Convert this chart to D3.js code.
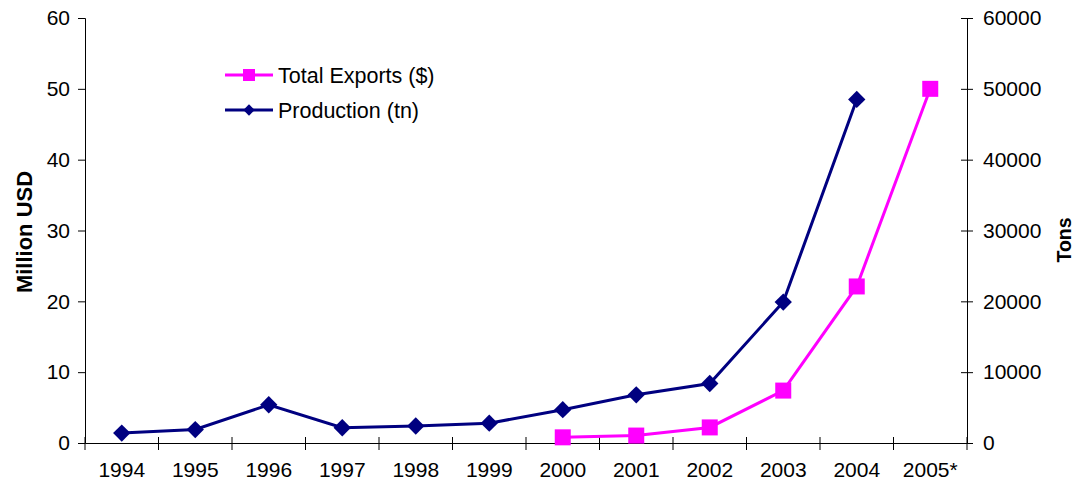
<!DOCTYPE html>
<html>
<head>
<meta charset="utf-8">
<script src="https://cdn.jsdelivr.net/npm/d3@7"></script>
<style>
  body { margin: 0; background: #fff; }
  svg { display: block; font-family: Arial, "Liberation Sans", sans-serif; }
</style>
</head>
<body>
<svg id="chart" width="1074" height="484"></svg>
<script>
// Category labels along the x axis
const years = ["1994", "1995", "1996", "1997", "1998", "1999", "2000", "2001", "2002", "2003", "2004", "2005*"];

// Production in tons (right axis); no figure for 2005*
const production = [1400, 1900, 5400, 2150, 2400, 2800, 4700, 6800, 8400, 19900, 48500, null];

// Total exports in million USD (left axis); starts in 2000
const exportsUSD = [null, null, null, null, null, null, 0.8, 1.05, 2.2, 7.4, 22.1, 50];

const leftTicks = [0, 10, 20, 30, 40, 50, 60];
const rightTicks = [0, 10000, 20000, 30000, 40000, 50000, 60000];

const svg = d3.select("#chart");
const m = { left: 85, right: 967, top: 18, bottom: 443 };

const x = d3.scaleBand().domain(years).range([m.left, m.right]);
const yL = d3.scaleLinear().domain([0, 60]).range([m.bottom, m.top]);
const yR = d3.scaleLinear().domain([0, 60000]).range([m.bottom, m.top]);

const cx = d => x(d) + x.bandwidth() / 2;

// Left axis
const gL = svg.append("g").attr("transform", `translate(${m.left},0)`)
  .call(d3.axisLeft(yL).tickValues(leftTicks).tickSize(7).tickPadding(8));
// Right axis
const gR = svg.append("g").attr("transform", `translate(${m.right},0)`)
  .call(d3.axisRight(yR).tickValues(rightTicks).tickFormat(d3.format("d")).tickSize(6).tickPadding(10));
gR.selectAll(".tick line").attr("x1", -6);

// Bottom axis: ticks sit between categories
const gB = svg.append("g").attr("transform", `translate(0,${m.bottom})`)
  .call(d3.axisBottom(x).tickSize(0).tickPadding(19));
gB.selectAll(".tick text").attr("dy", "0.71em");
gB.selectAll(".between").data(years.concat(["end"]))
  .enter().append("line")
  .attr("x1", (d, i) => m.left + i * x.step())
  .attr("x2", (d, i) => m.left + i * x.step())
  .attr("y1", -6).attr("y2", 7)
  .attr("stroke", "#000");

[gL, gR, gB].forEach(g => {
  g.selectAll("text").attr("font-size", 21).attr("fill", "#000")
    .attr("font-family", "Arial, 'Liberation Sans', sans-serif");
  g.selectAll(".domain").attr("stroke", "#000");
  g.selectAll(".tick line").attr("stroke", "#000");
});

// Axis titles
svg.append("text")
  .attr("transform", `translate(32,232) rotate(-90)`)
  .attr("text-anchor", "middle")
  .attr("font-size", 22).attr("font-weight", "bold")
  .text("Million USD");
svg.append("text")
  .attr("transform", `translate(1071,240) rotate(-90)`)
  .attr("text-anchor", "middle")
  .attr("font-size", 19.5).attr("font-weight", "bold")
  .text("Tons");

const navy = "#000080", magenta = "#ff00ff";

// Production line with diamond markers
const prodPts = years.map((d, i) => ({ d, v: production[i] })).filter(p => p.v != null);
svg.append("path")
  .datum(prodPts)
  .attr("fill", "none").attr("stroke", navy).attr("stroke-width", 3)
  .attr("d", d3.line().x(p => cx(p.d)).y(p => yR(p.v)));
svg.selectAll(".diamond").data(prodPts).enter().append("path")
  .attr("d", d3.symbol().type(d3.symbolSquare).size(150))
  .attr("transform", p => `translate(${cx(p.d)},${yR(p.v)}) rotate(45)`)
  .attr("fill", navy);

// Exports line with square markers
const expPts = years.map((d, i) => ({ d, v: exportsUSD[i] })).filter(p => p.v != null);
svg.append("path")
  .datum(expPts)
  .attr("fill", "none").attr("stroke", magenta).attr("stroke-width", 3)
  .attr("d", d3.line().x(p => cx(p.d)).y(p => yL(p.v)));
svg.selectAll(".square").data(expPts).enter().append("rect")
  .attr("x", p => cx(p.d) - 8).attr("y", p => yL(p.v) - 8)
  .attr("width", 16).attr("height", 16)
  .attr("fill", magenta);

// Legend
const legend = [
  { label: "Total Exports ($)", color: magenta, shape: "square", y: 75 },
  { label: "Production (tn)", color: navy, shape: "diamond", y: 110 }
];
const lg = svg.append("g");
legend.forEach(L => {
  lg.append("line").attr("x1", 225).attr("x2", 273).attr("y1", L.y).attr("y2", L.y)
    .attr("stroke", L.color).attr("stroke-width", 3);
  if (L.shape === "square") {
    lg.append("rect").attr("x", 243).attr("y", L.y - 6).attr("width", 12).attr("height", 12).attr("fill", L.color);
  } else {
    lg.append("path").attr("d", d3.symbol().type(d3.symbolSquare).size(64))
      .attr("transform", `translate(249,${L.y}) rotate(45)`).attr("fill", L.color);
  }
  lg.append("text").attr("x", 278).attr("y", L.y).attr("dy", "0.35em")
    .attr("font-size", 21.5).text(L.label);
});
</script>
</body>
</html>
